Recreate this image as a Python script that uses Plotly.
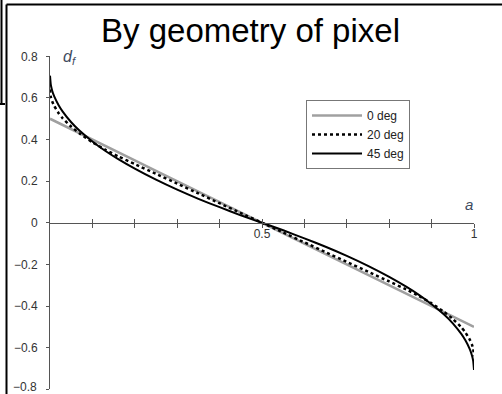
import plotly.graph_objects as go

# Area fraction a of the pixel covered, and the edge offset d_f for three edge angles
a_vals = [0.0, 0.002, 0.005, 0.01, 0.02, 0.03, 0.05, 0.07, 0.1, 0.13, 0.16, 0.2,
          0.25, 0.3, 0.35, 0.4, 0.45, 0.5,
          0.55, 0.6, 0.65, 0.7, 0.75, 0.8, 0.84, 0.87, 0.9, 0.93, 0.95, 0.97,
          0.98, 0.99, 0.995, 0.998, 1.0]

d_0deg = [0.5, 0.498, 0.495, 0.49, 0.48, 0.47, 0.45, 0.43, 0.4, 0.37, 0.34, 0.3,
          0.25, 0.2, 0.15, 0.1, 0.05, 0.0,
          -0.05, -0.1, -0.15, -0.2, -0.25, -0.3, -0.34, -0.37, -0.4, -0.43, -0.45, -0.47,
          -0.48, -0.49, -0.495, -0.498, -0.5]

d_20deg = [0.641, 0.605, 0.584, 0.561, 0.528, 0.502, 0.462, 0.429, 0.387, 0.352, 0.320, 0.282,
           0.235, 0.188, 0.141, 0.094, 0.047, 0.0,
           -0.047, -0.094, -0.141, -0.188, -0.235, -0.282, -0.320, -0.352, -0.387, -0.429, -0.462, -0.502,
           -0.528, -0.561, -0.584, -0.605, -0.641]

d_45deg = [0.707, 0.662, 0.636, 0.607, 0.566, 0.534, 0.483, 0.442, 0.391, 0.346, 0.307, 0.260,
           0.207, 0.159, 0.115, 0.075, 0.036, 0.0,
           -0.036, -0.075, -0.115, -0.159, -0.207, -0.260, -0.307, -0.346, -0.391, -0.442, -0.483, -0.534,
           -0.566, -0.607, -0.636, -0.662, -0.707]

series_names = ["0 deg", "20 deg", "45 deg"]

y_ticks = [0.8, 0.6, 0.4, 0.2, 0.0, -0.2, -0.4, -0.6, -0.8]
y_tick_text = ["0.8", "0.6", "0.4", "0.2", "0", "\u22120.2", "\u22120.4", "\u22120.6", "\u22120.8"]
x_ticks = [0.1, 0.2, 0.3, 0.4, 0.5, 0.6, 0.7, 0.8, 0.9, 1.0]
x_tick_text = ["", "", "", "", "0.5", "", "", "", "", "1"]

title_text = "By geometry of pixel"

W, H = 502, 394
# Plot-area edges in pixels (paper spans the whole figure; margins are zero)
X_LEFT, X_RIGHT = 50, 474
Y_TOP, Y_BOTTOM = 56.3, 389.3


def px_x(px):
    return px / W


def px_y(py):
    return 1 - py / H


FONT = "Liberation Sans, Arial, Helvetica, sans-serif"
AXIS_COLOR = "#555555"
TEXT_COLOR = "#333333"

fig = go.Figure()
fig.add_trace(go.Scatter(x=a_vals, y=d_0deg, mode="lines", name=series_names[0],
                         line=dict(color="#a0a0a0", width=2.5)))
fig.add_trace(go.Scatter(x=a_vals, y=d_20deg, mode="lines", name=series_names[1],
                         line=dict(color="black", width=2.5, dash="dot", shape="spline", smoothing=0.5)))
fig.add_trace(go.Scatter(x=a_vals, y=d_45deg, mode="lines", name=series_names[2],
                         line=dict(color="black", width=2, shape="spline", smoothing=0.5)))

# Invisible trace so the secondary tick axis is rendered
fig.add_trace(go.Scatter(x=[0, 1], y=[0, 0], xaxis="x2", mode="lines",
                         line=dict(width=0), showlegend=False, hoverinfo="skip"))

y_mid = (px_y(Y_TOP) + px_y(Y_BOTTOM)) / 2

# The lowest y label sits at the figure's bottom edge, so it is placed as an annotation
y_axis_text = y_tick_text[:-1] + [""]

fig.update_layout(
    width=W, height=H,
    margin=dict(l=0, r=0, t=0, b=0, autoexpand=False),
    paper_bgcolor="white", plot_bgcolor="white",
    font=dict(family=FONT, size=12, color=TEXT_COLOR),
    showlegend=True,
    legend=dict(x=px_x(306), y=px_y(100), xanchor="left", yanchor="top",
                bgcolor="white", bordercolor="#777777", borderwidth=1,
                font=dict(family=FONT, size=12, color="#222222"),
                itemwidth=50, tracegroupgap=0),
    xaxis=dict(domain=[px_x(X_LEFT), px_x(X_RIGHT)], range=[0, 1],
               anchor="free", position=y_mid, automargin=False,
               showline=True, linecolor=AXIS_COLOR, linewidth=1,
               ticks="outside", ticklen=4, tickcolor=AXIS_COLOR, tickwidth=1,
               tickvals=x_ticks, ticktext=x_tick_text, ticklabelstandoff=-4,
               showgrid=False, zeroline=False,
               tickfont=dict(family=FONT, size=12, color=TEXT_COLOR)),
    xaxis2=dict(domain=[px_x(X_LEFT), px_x(X_RIGHT)], range=[0, 1],
                overlaying="x", anchor="free", position=y_mid, automargin=False,
                showline=False, ticks="inside", ticklen=4, tickcolor=AXIS_COLOR, tickwidth=1,
                tickvals=x_ticks, showticklabels=False, showgrid=False, zeroline=False),
    yaxis=dict(domain=[px_y(Y_BOTTOM), px_y(Y_TOP)], range=[-0.8, 0.8], automargin=False,
               showline=True, linecolor=AXIS_COLOR, linewidth=1,
               ticks="outside", ticklen=3, tickcolor=AXIS_COLOR, tickwidth=1,
               tickvals=y_ticks, ticktext=y_axis_text, ticklabelstandoff=6,
               showgrid=False, zeroline=False,
               tickfont=dict(family=FONT, size=12, color=TEXT_COLOR)),
)

fig.add_annotation(text=y_tick_text[-1], x=px_x(38.5), xref="paper", y=y_ticks[-1], yref="y",
                   showarrow=False, xanchor="right", yanchor="middle", yshift=2,
                   font=dict(family=FONT, size=12, color=TEXT_COLOR))

fig.add_annotation(text=title_text, x=px_x(250.5), y=px_y(30), xref="paper", yref="paper",
                   showarrow=False, xanchor="center", yanchor="middle",
                   font=dict(family=FONT, size=33, color="black"))
fig.add_annotation(text="<i>d</i><sub><i>f</i></sub>", x=px_x(61), y=px_y(57), xref="paper", yref="paper",
                   showarrow=False, xanchor="left", yanchor="middle",
                   font=dict(family=FONT, size=16, color="#404a60"))
fig.add_annotation(text="<i>a</i>", x=px_x(469), y=px_y(205), xref="paper", yref="paper",
                   showarrow=False, xanchor="center", yanchor="middle",
                   font=dict(family=FONT, size=15, color="#404a60"))

# Border lines framing the figure
frame = dict(color="black", width=2)
fig.add_shape(type="line", xref="paper", yref="paper",
              x0=px_x(6.5), y0=px_y(4.5), x1=px_x(W), y1=px_y(4.5), line=frame)
fig.add_shape(type="line", xref="paper", yref="paper",
              x0=px_x(6.5), y0=px_y(4.5), x1=px_x(6.5), y1=px_y(H), line=frame)
fig.add_shape(type="line", xref="paper", yref="paper",
              x0=px_x(1.5), y0=px_y(0), x1=px_x(1.5), y1=px_y(104), line=frame)
fig.add_shape(type="line", xref="paper", yref="paper",
              x0=px_x(0), y0=px_y(104), x1=px_x(5), y1=px_y(104), line=frame)

fig.write_html("out.html")
